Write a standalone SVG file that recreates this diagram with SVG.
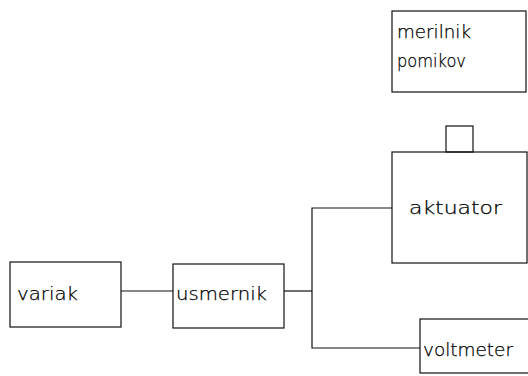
<svg xmlns="http://www.w3.org/2000/svg" width="528" height="376" viewBox="0 0 528 376">
  <style>
    .box { fill: none; stroke: #111; stroke-width: 1.2; }
    .wire { fill: none; stroke: #111; stroke-width: 1.2; }
    .lbl { font-family: "DejaVu Sans", sans-serif; font-size: 17px; font-weight: 200; fill: #000; stroke: #000; stroke-width: 0.25; }
  </style>
  <rect width="528" height="376" fill="#fff"/>

  <g id="connectors">
    <line class="wire" x1="121" y1="291" x2="173" y2="291"/>
    <line class="wire" x1="284" y1="291" x2="312" y2="291"/>
    <polyline class="wire" points="392,208 312,208 312,348 420,348"/>
  </g>

  <g id="merilnik-pomikov">
    <rect class="box" x="392" y="11" width="134" height="81"/>
    <text class="lbl" x="397" y="38" textLength="74" lengthAdjust="spacingAndGlyphs">merilnik</text>
    <text class="lbl" x="397" y="67" textLength="69" lengthAdjust="spacingAndGlyphs">pomikov</text>
  </g>

  <g id="aktuator">
    <rect class="box" x="446" y="126" width="27" height="26"/>
    <rect class="box" x="392" y="152" width="135" height="111"/>
    <text class="lbl" x="409" y="214" textLength="93" lengthAdjust="spacingAndGlyphs">aktuator</text>
  </g>

  <g id="variak">
    <rect class="box" x="10" y="262" width="111" height="65"/>
    <text class="lbl" x="17" y="300" textLength="61" lengthAdjust="spacingAndGlyphs">variak</text>
  </g>

  <g id="usmernik">
    <rect class="box" x="173" y="264" width="111" height="64"/>
    <text class="lbl" x="176" y="300" textLength="91" lengthAdjust="spacingAndGlyphs">usmernik</text>
  </g>

  <g id="voltmeter">
    <rect class="box" x="420" y="319" width="112" height="54"/>
    <text class="lbl" x="423" y="356" textLength="90" lengthAdjust="spacingAndGlyphs">voltmeter</text>
  </g>
</svg>
